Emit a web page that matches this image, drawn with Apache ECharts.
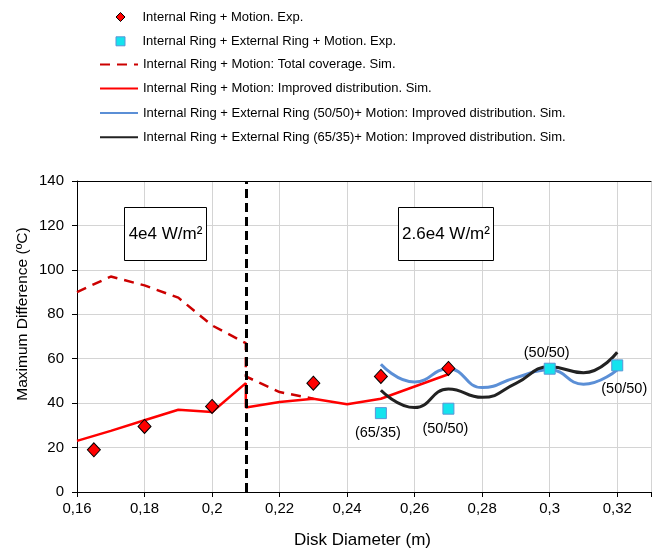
<!DOCTYPE html>
<html><head><meta charset="utf-8">
<script src="https://cdn.jsdelivr.net/npm/echarts@6/dist/echarts.min.js"></script>
<style>html,body{margin:0;padding:0;background:#fff}#c{width:654px;height:550px}</style>
</head><body><div id="c"></div>
<script>
// ---- data ----
const xTicks = [0.16, 0.18, 0.20, 0.22, 0.24, 0.26, 0.28, 0.30, 0.32];
const yTicks = [0, 20, 40, 60, 80, 100, 120, 140];

const expIntX = [0.165, 0.18, 0.20, 0.23, 0.25, 0.27];
const expIntY = [19, 29.5, 38.5, 49, 52, 55.6];

const expExtX = [0.25, 0.27, 0.30, 0.32];
const expExtY = [35.5, 37.5, 55.5, 57];
const expExtLabels = ['(65/35)', '(50/50)', '(50/50)', '(50/50)'];

const totalX = [0.16, 0.17, 0.18, 0.19, 0.20, 0.21, 0.21, 0.22, 0.23];
const totalY = [90, 97, 93, 87.5, 75, 67, 52, 45, 42];

const impX = [0.16, 0.17, 0.18, 0.19, 0.20, 0.21, 0.21, 0.22, 0.23, 0.24, 0.25, 0.26, 0.27];
const impY = [23, 27.5, 32.3, 37, 36, 49, 38, 40.5, 42, 39.5, 42, 47.5, 53];

const ext5050X = [0.25, 0.26, 0.27, 0.28, 0.29, 0.30, 0.31, 0.32];
const ext5050Y = [57.5, 49.5, 55.5, 47, 51.5, 55, 48.5, 55];

const ext6535X = [0.25, 0.26, 0.27, 0.28, 0.29, 0.30, 0.31, 0.32];
const ext6535Y = [45.8, 38, 46.4, 42.6, 48.9, 56.4, 53.7, 62.9];

const dividerX = 0.21;

const names = [
  'Internal Ring + Motion. Exp.',
  'Internal Ring + External Ring + Motion. Exp.',
  'Internal Ring + Motion: Total coverage. Sim.',
  'Internal Ring + Motion: Improved distribution. Sim.',
  'Internal Ring + External Ring (50/50)+ Motion: Improved distribution. Sim.',
  'Internal Ring + External Ring (65/35)+ Motion: Improved distribution. Sim.'
];
const xTitle = 'Disk Diameter (m)';
const yTitle = 'Maximum Difference (ºC)';
const boxTexts = ['4e4 W/m²', '2.6e4 W/m²'];

// ---- build ----
const FONT = 'Liberation Sans, Arial, sans-serif';
const zip = (xs, ys) => xs.map((x, i) => [x, ys[i]]);

const diamondStyle = {color: '#FF0000', borderColor: '#000', borderWidth: 1, opacity: 1};
const squareStyle = {color: '#14E3EE', borderColor: '#5B95D6', borderWidth: 1, opacity: 1};

const labelCfg = [
  {position: 'bottom', distance: 6, offset: [-3, 0]},
  {position: 'bottom', distance: 7, offset: [-3, 0]},
  {position: 'top', distance: 2.5, offset: [-3, 0]},
  {position: 'bottom', distance: 10, offset: [7, 0]}
];

const chart = echarts.init(document.getElementById('c'), null, {renderer: 'canvas'});

const rowCenters = [18, 42.3, 65.6, 89.6, 114, 138.3];
const legendDefs = [
  {w: 9, h: 9, left: 115.5, pad: 12.5, style: diamondStyle},
  {w: 9, h: 9, left: 115.5, pad: 12.5, style: squareStyle},
  {w: 38, h: 14, left: 99, pad: 0, style: {opacity: 0}},
  {w: 38, h: 14, left: 99, pad: 0, style: {opacity: 0}},
  {w: 38, h: 14, left: 99, pad: 0, style: {opacity: 0}},
  {w: 38, h: 14, left: 99, pad: 0, style: {opacity: 0}}
];
const legends = names.map((n, i) => ({
  data: [{name: n, itemStyle: legendDefs[i].style}],
  orient: 'vertical',
  left: legendDefs[i].left,
  top: rowCenters[i] - 7.5,
  padding: 0,
  itemWidth: legendDefs[i].w,
  itemHeight: legendDefs[i].h,
  selectedMode: false,
  textStyle: {fontSize: 13, fontFamily: FONT, color: '#000', padding: [0, 0, 0, legendDefs[i].pad]},
  itemStyle: legendDefs[i].style
}));

const option = {
  backgroundColor: '#fff',
  animation: false,
  legend: legends,
  grid: {left: 77, right: 1, top: 181, bottom: 58, containLabel: false},
  xAxis: [{
    type: 'value', min: 0.16, max: 0.33, interval: 0.02,
    axisLine: {show: true, lineStyle: {color: '#000', width: 1}},
    axisTick: {show: true, length: 5, inside: false, lineStyle: {color: '#000'}},
    axisLabel: {
      fontSize: 15, fontFamily: FONT, color: '#000', margin: 9,
      formatter: v => {
        const r = +(+v).toFixed(2);
        if (!xTicks.some(t => Math.abs(t - r) < 1e-9)) return '';
        return String(r).replace('.', ',');
      }
    },
    splitLine: {show: true, lineStyle: {color: '#D4D4D4', width: 1}}
  }, {
    type: 'value', min: 0.16, max: 0.33, position: 'top',
    axisLine: {show: true, onZero: false, lineStyle: {color: '#000', width: 1}},
    axisTick: {show: false}, axisLabel: {show: false}, splitLine: {show: false}
  }],
  yAxis: {
    type: 'value', min: yTicks[0], max: yTicks[yTicks.length - 1], interval: 20,
    axisLine: {show: true, lineStyle: {color: '#000', width: 1}},
    axisTick: {show: true, length: 5, inside: false, lineStyle: {color: '#000'}},
    axisLabel: {fontSize: 15, fontFamily: FONT, color: '#000', margin: 13},
    splitLine: {show: true, lineStyle: {color: '#D4D4D4', width: 1}}
  },
  series: [
    {
      name: names[0], type: 'scatter', z: 5,
      symbol: 'diamond', symbolSize: [13, 14],
      itemStyle: diamondStyle,
      data: zip(expIntX, expIntY)
    },
    {
      name: names[1], type: 'scatter', z: 5,
      symbol: 'rect', symbolSize: 11,
      itemStyle: squareStyle,
      label: {show: true, fontSize: 14.5, fontFamily: FONT, color: '#000'},
      data: zip(expExtX, expExtY).map((p, i) => ({
        value: p,
        label: Object.assign({show: true, formatter: expExtLabels[i]}, labelCfg[i])
      }))
    },
    {
      name: names[2], type: 'line', z: 3, symbol: 'none', showSymbol: false,
      lineStyle: {color: '#CC0000', width: 2.5, type: [10, 7]},
      itemStyle: {color: '#CC0000'},
      data: zip(totalX, totalY),
      markLine: {
        silent: true, symbol: ['none', 'none'], z: 6,
        label: {show: false},
        lineStyle: {color: '#000', width: 3, type: [9, 5]},
        data: [[{coord: [dividerX, yTicks[0]]}, {coord: [dividerX, yTicks[yTicks.length - 1]]}]]
      }
    },
    {
      name: names[3], type: 'line', z: 3, symbol: 'none', showSymbol: false,
      lineStyle: {color: '#FF0000', width: 2.5},
      itemStyle: {color: '#FF0000'},
      data: zip(impX, impY)
    },
    {
      name: names[4], type: 'line', z: 3, symbol: 'none', showSymbol: false, smooth: 0.5,
      lineStyle: {color: '#5B8FD6', width: 3},
      itemStyle: {color: '#5B8FD6'},
      data: zip(ext5050X, ext5050Y)
    },
    {
      name: names[5], type: 'line', z: 3, symbol: 'none', showSymbol: false, smooth: 0.5,
      lineStyle: {color: '#222222', width: 3},
      itemStyle: {color: '#222222'},
      data: zip(ext6535X, ext6535Y)
    }
  ],
  graphic: [
    {type: 'rect', z: 10, shape: {x: 124.5, y: 207.5, width: 82, height: 53},
     style: {fill: '#fff', stroke: '#000', lineWidth: 1}},
    {type: 'text', z: 11, x: 165.5, y: 234.5,
     style: {text: boxTexts[0], fontSize: 17, fontFamily: FONT, fill: '#000', align: 'center', verticalAlign: 'middle'}},
    {type: 'rect', z: 10, shape: {x: 398.5, y: 207.5, width: 95, height: 53},
     style: {fill: '#fff', stroke: '#000', lineWidth: 1}},
    {type: 'text', z: 11, x: 446, y: 234.5,
     style: {text: boxTexts[1], fontSize: 17, fontFamily: FONT, fill: '#000', align: 'center', verticalAlign: 'middle'}},
    {type: 'text', z: 11, x: 362.5, y: 540,
     style: {text: xTitle, fontSize: 17, fontFamily: FONT, fill: '#000', align: 'center', verticalAlign: 'middle'}},
    {type: 'text', z: 11, x: 23, y: 314, rotation: Math.PI / 2,
     style: {text: yTitle, fontSize: 15.5, fontFamily: FONT, fill: '#000', align: 'center', verticalAlign: 'middle'}}
  ]
};
chart.setOption(option);
</script>
</body></html>
